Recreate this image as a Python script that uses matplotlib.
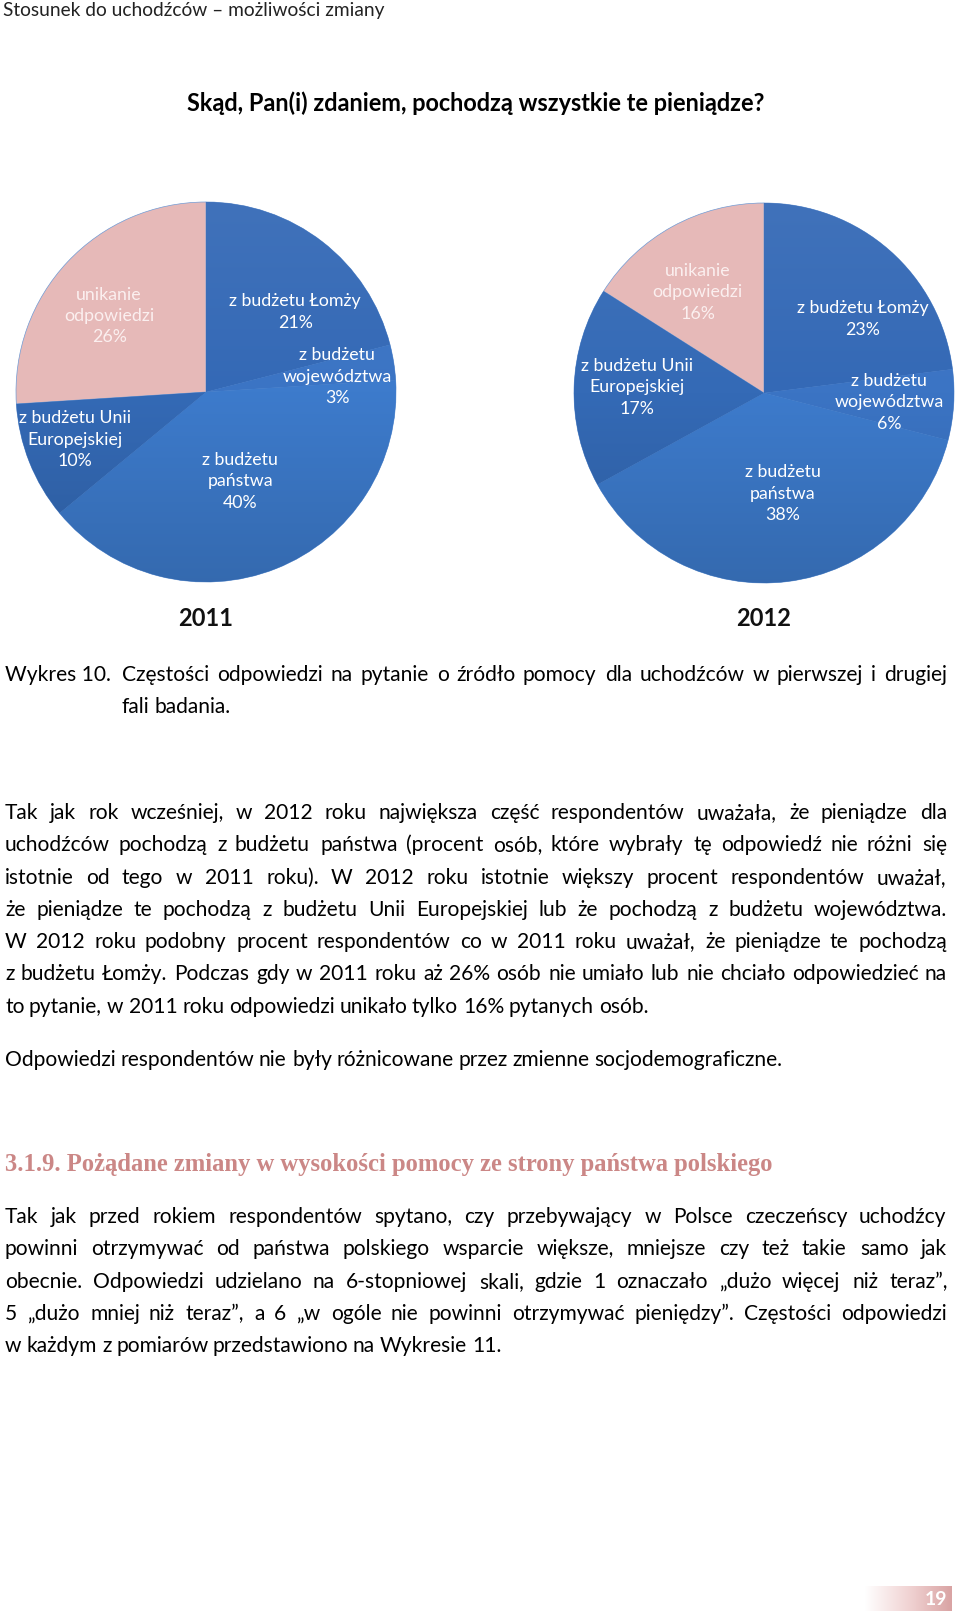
import matplotlib
matplotlib.use('Agg')
import matplotlib.pyplot as plt
import numpy as np
from matplotlib.colors import LinearSegmentedColormap, to_rgb

# dane wykresu
kategorie = ['z budżetu Łomży', 'z budżetu\nwojewództwa', 'z budżetu\npaństwa',
             'z budżetu Unii\nEuropejskiej', 'unikanie\nodpowiedzi']
udzialy_2011 = [21, 3, 40, 10, 26]
udzialy_2012 = [23, 6, 38, 17, 16]
lata = ['2011', '2012']

kolory = ['#3469B6', '#3B74C4', '#3D7BCC', '#346AB6', '#E6B9B8']
kolory_tekstu = ['white', 'white', 'white', 'white', '#FBEFEF']

# polozenie etykiet w promieniach kola (x, y)
etykiety_2011 = [(0.47, 0.42), (0.69, 0.08), (0.18, -0.47), (-0.69, -0.25), (-0.51, 0.40)]
etykiety_2012 = [(0.52, 0.39), (0.66, -0.05), (0.10, -0.53), (-0.67, 0.03), (-0.35, 0.53)]

akapit_1 = [
    "Tak jak rok wcześniej, w 2012 roku największa część respondentów uważała, że pieniądze dla",
    "uchodźców pochodzą z budżetu państwa (procent osób, które wybrały tę odpowiedź nie różni się",
    "istotnie od tego w 2011 roku). W 2012 roku istotnie większy procent respondentów uważał,",
    "że pieniądze te pochodzą z budżetu Unii Europejskiej lub że pochodzą z budżetu województwa.",
    "W 2012 roku podobny procent respondentów co w 2011 roku uważał, że pieniądze te pochodzą",
    "z budżetu Łomży. Podczas gdy w 2011 roku aż 26% osób nie umiało lub nie chciało odpowiedzieć na",
    "to pytanie, w 2011 roku odpowiedzi unikało tylko 16% pytanych osób.",
]
akapit_2 = ["Odpowiedzi respondentów nie były różnicowane przez zmienne socjodemograficzne."]
akapit_3 = [
    "Tak jak przed rokiem respondentów spytano, czy przebywający w Polsce czeczeńscy uchodźcy",
    "powinni otrzymywać od państwa polskiego wsparcie większe, mniejsze czy też takie samo jak",
    "obecnie. Odpowiedzi udzielano na 6-stopniowej skali, gdzie 1 oznaczało „dużo więcej niż teraz”,",
    "5 „dużo mniej niż teraz”, a 6 „w ogóle nie powinni otrzymywać pieniędzy”. Częstości odpowiedzi",
    "w każdym z pomiarów przedstawiono na Wykresie 11.",
]

W, H = 960, 1619
FONT = ['Lato', 'DejaVu Sans']

fig = plt.figure(figsize=(W / 100, H / 100), dpi=100)
fig.patch.set_facecolor('white')
renderer = fig.canvas.get_renderer()


def fx(x):
    return x / W


def fy(y):
    return 1 - round(y) / H


def szerokosc(t):
    return t.get_window_extent(renderer).width


def tekst_dopasowany(x0, x1, y, s, ha='left', **kw):
    # rozmiar czcionki tak, aby tekst mial zadana szerokosc
    t = fig.text(fx(x0), fy(y), s, va='baseline', **kw)
    w = szerokosc(t)
    t.set_fontsize(t.get_fontsize() * (x1 - x0) / w)
    if ha == 'center':
        t.set_x(fx((x0 + x1) / 2))
        t.set_ha('center')
    return t


def wyjustuj(linia, y, x0, x1, size, ostatnia=False, color='black'):
    slowa = linia.split(' ')
    teksty = [fig.text(0, fy(y), s, fontsize=size, family=FONT, color=color,
                       va='baseline') for s in slowa]
    szer = [szerokosc(t) for t in teksty]
    spacja = size * 100 / 72 * 0.23
    if not ostatnia and len(slowa) > 1:
        spacja = (x1 - x0 - sum(szer)) / (len(slowa) - 1)
    x = x0
    for t, w in zip(teksty, szer):
        t.set_x(fx(round(x)))
        x += w + spacja


def ciemniej(c, f):
    r, g, b = to_rgb(c)
    return (r * f, g * f, b * f)


def jasniej(c, f):
    r, g, b = to_rgb(c)
    return (r + (1 - r) * f, g + (1 - g) * f, b + (1 - b) * f)


def rysuj_kolo(cx, cy, r, wartosci, etykiety, rok):
    ax = fig.add_axes([fx(cx - r), fy(cy + r), 2 * r / W, 2 * r / H])
    wedges, _ = ax.pie(wartosci, colors=kolory, startangle=90, counterclock=False,
                       radius=1, wedgeprops=dict(edgecolor='#6F9AD4', linewidth=0.5))
    ax.set_xlim(-1.0, 1.0)
    ax.set_ylim(-1.0, 1.0)
    ax.set_aspect('equal')
    ax.axis('off')
    # lekki gradient w kazdym wycinku
    for wdg, kol in zip(wedges, kolory):
        if kol == kolory[-1]:
            continue
        cmap = LinearSegmentedColormap.from_list('g', [ciemniej(kol, 0.86), kol, jasniej(kol, 0.06)])
        grad = np.linspace(0, 1, 200).reshape(-1, 1)
        im = ax.imshow(grad, cmap=cmap, origin='lower', extent=[-1, 1, -1, 1],
                       aspect='auto', zorder=wdg.get_zorder() + 0.1)
        im.set_clip_path(wdg)
    for lab, val, (dx, dy), ct in zip(kategorie, wartosci, etykiety, kolory_tekstu):
        ax.text(dx, dy, f'{lab}\n{val}%', ha='center', va='center', color=ct,
                fontsize=12.8, family=FONT, linespacing=1.42, zorder=5)
    fig.text(fx(cx), fy(626), rok, ha='center', va='baseline', fontsize=17,
             fontweight='bold', family=FONT, color='#111111')


# naglowek strony
tekst_dopasowany(3, 386, 16, 'Stosunek do uchodźców – możliwości zmiany',
                 family=FONT, fontsize=14, color='#222222')
tekst_dopasowany(185, 766, 111, 'Skąd, Pan(i) zdaniem, pochodzą wszystkie te pieniądze?',
                 ha='center', family=FONT, fontsize=14, fontweight='bold', color='black')

rysuj_kolo(206, 392, 190, udzialy_2011, etykiety_2011, lata[0])
rysuj_kolo(764, 393, 190, udzialy_2012, etykiety_2012, lata[1])

# rozmiar tekstu glownego dopasowany do szerokosci zdania bez justowania
probka = fig.text(0, 0, akapit_2[0], fontsize=14, family=FONT)
ROZ = 14 * (794 - 5) / szerokosc(probka)
probka.remove()

# podpis wykresu
fig.text(fx(5), fy(681), 'Wykres 10.', fontsize=ROZ, family=FONT, va='baseline')
wyjustuj('Częstości odpowiedzi na pytanie o źródło pomocy dla uchodźców w pierwszej i drugiej',
         681, 122, 947, ROZ)
wyjustuj('fali badania.', 713, 122, 947, ROZ, ostatnia=True)

y = 819
for i, linia in enumerate(akapit_1):
    wyjustuj(linia, y + i * 32.3, 5, 947, ROZ, ostatnia=(i == len(akapit_1) - 1))

wyjustuj(akapit_2[0], 1066, 5, 947, ROZ, ostatnia=True)

tekst_dopasowany(5, 777, 1171, '3.1.9. Pożądane zmiany w wysokości pomocy ze strony państwa polskiego',
                 family=['Liberation Serif', 'DejaVu Serif'], fontsize=16,
                 fontweight='bold', color='#CB8786')

y = 1223
for i, linia in enumerate(akapit_3):
    wyjustuj(linia, y + i * 32.3, 5, 947, ROZ, ostatnia=(i == len(akapit_3) - 1))

# numer strony na gradiencie
axn = fig.add_axes([fx(865), fy(1611), 87 / W, 25 / H])
cmap_n = LinearSegmentedColormap.from_list('n', ['white', '#F1D4D4', '#D9A3A3'])
axn.imshow(np.linspace(0, 1, 256).reshape(1, -1), cmap=cmap_n, aspect='auto',
           extent=[0, 1, 0, 1])
axn.axis('off')
axn.text(0.94, 0.45, '19', ha='right', va='center', color='white', fontsize=14,
         fontweight='bold', family=FONT, transform=axn.transAxes)

fig.savefig('out.png', dpi=100, facecolor='white')
